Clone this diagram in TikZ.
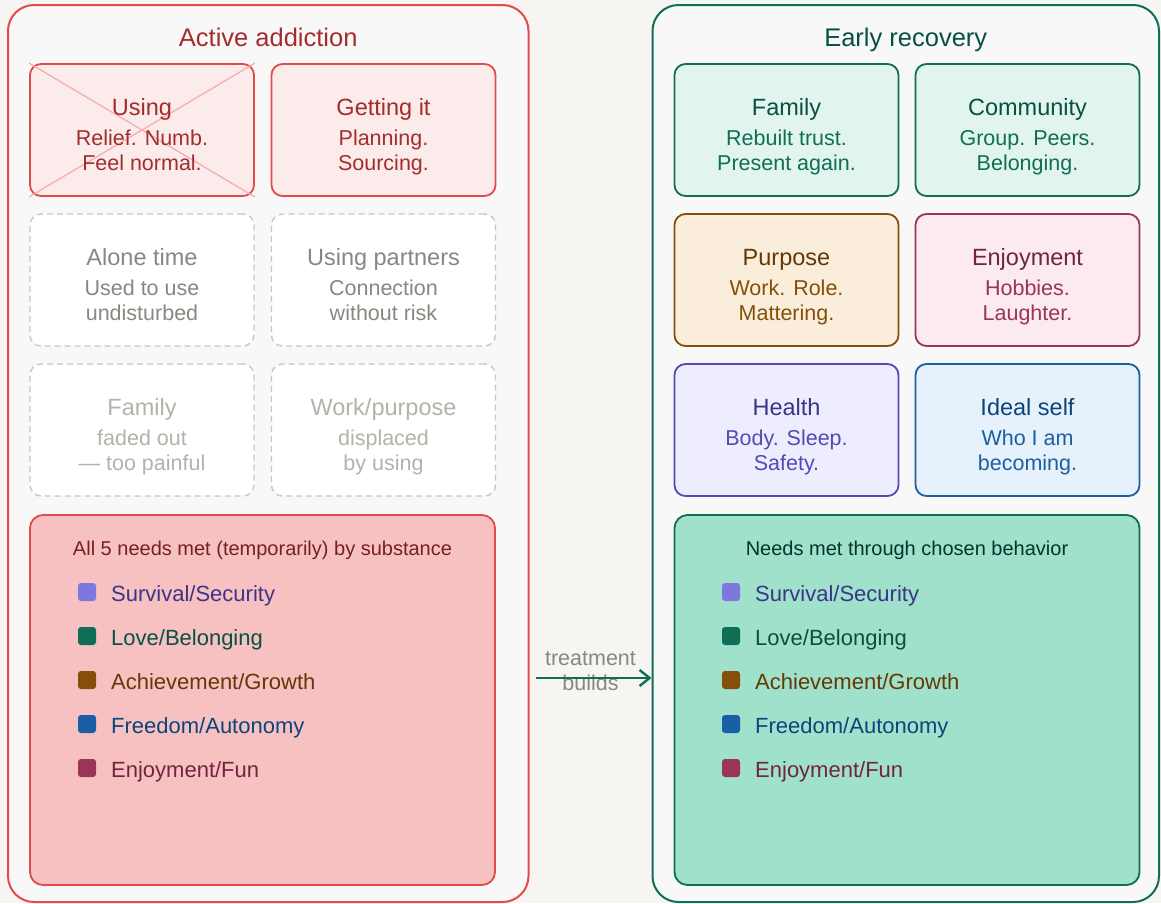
\documentclass[tikz,border=0pt]{standalone}
\usepackage{fontspec}
\setmainfont{Liberation Sans}
\usetikzlibrary{arrows.meta}
\definecolor{bg}{HTML}{F6F5F1}
\definecolor{panelbg}{HTML}{F8F8F8}
\definecolor{redA}{HTML}{E24B4A}
\definecolor{redL}{HTML}{FCEBEB}
\definecolor{redM}{HTML}{F7C1C1}
\definecolor{redX}{HTML}{F4ABAB}
\definecolor{redD}{HTML}{A32D2D}
\definecolor{redDD}{HTML}{791F1F}
\definecolor{tealL}{HTML}{E1F5EE}
\definecolor{tealM}{HTML}{9FE1CB}
\definecolor{tealA}{HTML}{0F6E56}
\definecolor{tealD}{HTML}{085041}
\definecolor{tealDD}{HTML}{04342C}
\definecolor{amberL}{HTML}{FAEEDA}
\definecolor{amberA}{HTML}{854F0B}
\definecolor{amberD}{HTML}{633806}
\definecolor{pinkL}{HTML}{FBEAF0}
\definecolor{pinkA}{HTML}{993556}
\definecolor{pinkD}{HTML}{72243E}
\definecolor{purpL}{HTML}{EEEDFE}
\definecolor{purpS}{HTML}{7F77DD}
\definecolor{purpA}{HTML}{534AB7}
\definecolor{purpD}{HTML}{3C3489}
\definecolor{blueL}{HTML}{E6F1FB}
\definecolor{blueA}{HTML}{185FA5}
\definecolor{blueD}{HTML}{0C447C}
\definecolor{grayA}{HTML}{888780}
\definecolor{grayB}{HTML}{B4B2A9}
\definecolor{grayDash}{HTML}{C8C7C0}
\newcommand\fsz[1]{\fontsize{#1pt}{#1pt}\selectfont}
\tikzset{
  panel/.style={draw, line width=2pt, rounded corners=26pt, fill=panelbg, inner sep=0pt},
  card/.style={draw, line width=1.8pt, rounded corners=11pt, minimum width=224pt, minimum height=132pt, inner sep=0pt},
  ghost/.style={card, draw=grayDash, line width=1.4pt, dash pattern=on 6pt off 4pt, fill=white},
  ttl/.style={anchor=base, inner sep=0pt, font=\fsz{23.5}},
  sub/.style={anchor=base, inner sep=0pt, font=\fsz{21.5}},
  ptitle/.style={anchor=base, inner sep=0pt, font=\fsz{25.5}},
  needs/.style={draw, line width=1.8pt, rounded corners=13pt, minimum width=465pt, minimum height=370pt, inner sep=0pt},
  nhead/.style={anchor=base, inner sep=0pt, font=\fsz{20}},
  sq/.style={rounded corners=3pt, minimum size=18pt, inner sep=0pt},
  item/.style={anchor=base west, inner sep=0pt, font=\fsz{22}},
}
% name, cx, top, box style, title colour, sub colour, title, sub1, sub2
\newcommand\card[9]{%
  \node[card,#4] (#1) at (#2,#3+66) {};
  \node[ttl,text=#5] (#1-t) at (#2,#3+51) {#7};
  \node[sub,text=#6] (#1-a) at (#2,#3+81) {#8};
  \node[sub,text=#6] (#1-b) at (#2,#3+106) {#9};
}
% name, square x-left, baseline, square colour, text colour, text
\newcommand\needitem[6]{%
  \node[sq,fill=#4] (#1-s) at (#2+9,#3-9) {};
  \node[item,text=#5] (#1-x) at (#2+33,#3) {#6};
}
\begin{document}
\begin{tikzpicture}[x=1pt,y=-1pt]
\fill[bg] (0,0) rectangle (1161,903);
\useasboundingbox (0,0) rectangle (1161,903);

% panels
\node[panel, draw=redA, minimum width=520.5pt, minimum height=897pt] (left) at (268.25,453.5) {};
\node[panel, draw=tealA, minimum width=506.5pt, minimum height=897pt] (right) at (905.75,453.5) {};
\node[ptitle, text=redD] (ltitle) at (268.25,46) {Active addiction};
\node[ptitle, text=tealD] (rtitle) at (905.75,46) {Early recovery};

% left cards
\node[card, draw=redA, fill=redL] (using) at (142,130) {};
\draw[redX, line width=1.2pt] (using.north west) -- (using.south east);
\draw[redX, line width=1.2pt] (using.north east) -- (using.south west);
\node[ttl,text=redD] (using-t) at (142,115) {Using};
\node[sub,text=redD] (using-a) at (142,145) {Relief. Numb.};
\node[sub,text=redD] (using-b) at (142,170) {Feel normal.};
\card{getting}{383.5}{64}{draw=redA, fill=redL}{redD}{redD}{Getting it}{Planning.}{Sourcing.}
\card{alone}{142}{214}{ghost}{grayA}{grayA}{Alone time}{Used to use}{undisturbed}
\card{partners}{383.5}{214}{ghost}{grayA}{grayA}{Using partners}{Connection}{without risk}
\card{lfamily}{142}{364}{ghost}{grayB}{grayB}{Family}{faded out}{— too painful}
\card{work}{383.5}{364}{ghost}{grayB}{grayB}{Work/purpose}{displaced}{by using}

% right cards
\card{family}{786.5}{64}{draw=tealA, fill=tealL}{tealD}{tealA}{Family}{Rebuilt trust.}{Present again.}
\card{community}{1027.5}{64}{draw=tealA, fill=tealL}{tealD}{tealA}{Community}{Group. Peers.}{Belonging.}
\card{purpose}{786.5}{214}{draw=amberA, fill=amberL}{amberD}{amberA}{Purpose}{Work. Role.}{Mattering.}
\card{enjoy}{1027.5}{214}{draw=pinkA, fill=pinkL}{pinkD}{pinkA}{Enjoyment}{Hobbies.}{Laughter.}
\card{health}{786.5}{364}{draw=purpA, fill=purpL}{purpD}{purpA}{Health}{Body. Sleep.}{Safety.}
\card{ideal}{1027.5}{364}{draw=blueA, fill=blueL}{blueD}{blueA}{Ideal self}{Who I am}{becoming.}

% needs boxes
\node[needs, draw=redA, fill=redM] (lneeds) at (262.5,700) {};
\node[nhead, text=redDD] (lhead) at (262.5,555.7) {All 5 needs met (temporarily) by substance};
\needitem{l1}{78}{601}{purpS}{purpD}{Survival/Security}
\needitem{l2}{78}{645}{tealA}{tealD}{Love/Belonging}
\needitem{l3}{78}{689}{amberA}{amberD}{Achievement/Growth}
\needitem{l4}{78}{733}{blueA}{blueD}{Freedom/Autonomy}
\needitem{l5}{78}{777}{pinkA}{pinkD}{Enjoyment/Fun}

\node[needs, draw=tealA, fill=tealM] (rneeds) at (907,700) {};
\node[nhead, text=tealDD] (rhead) at (907,555.7) {Needs met through chosen behavior};
\needitem{r1}{722}{601}{purpS}{purpD}{Survival/Security}
\needitem{r2}{722}{645}{tealA}{tealD}{Love/Belonging}
\needitem{r3}{722}{689}{amberA}{amberD}{Achievement/Growth}
\needitem{r4}{722}{733}{blueA}{blueD}{Freedom/Autonomy}
\needitem{r5}{722}{777}{pinkA}{pinkD}{Enjoyment/Fun}

% connector
\node[sub, text=grayA, font=\fsz{21.5}] (lab1) at (590.5,665.7) {treatment};
\node[sub, text=grayA, font=\fsz{21.5}] (lab2) at (590.5,690.7) {builds};
\coordinate (astart) at (536,678);
\draw[tealA, line width=2.4pt, -{Straight Barb[length=10pt,width=16pt,line width=2.4pt]}] (astart) -- (astart -| right.west);
\end{tikzpicture}
\end{document}
